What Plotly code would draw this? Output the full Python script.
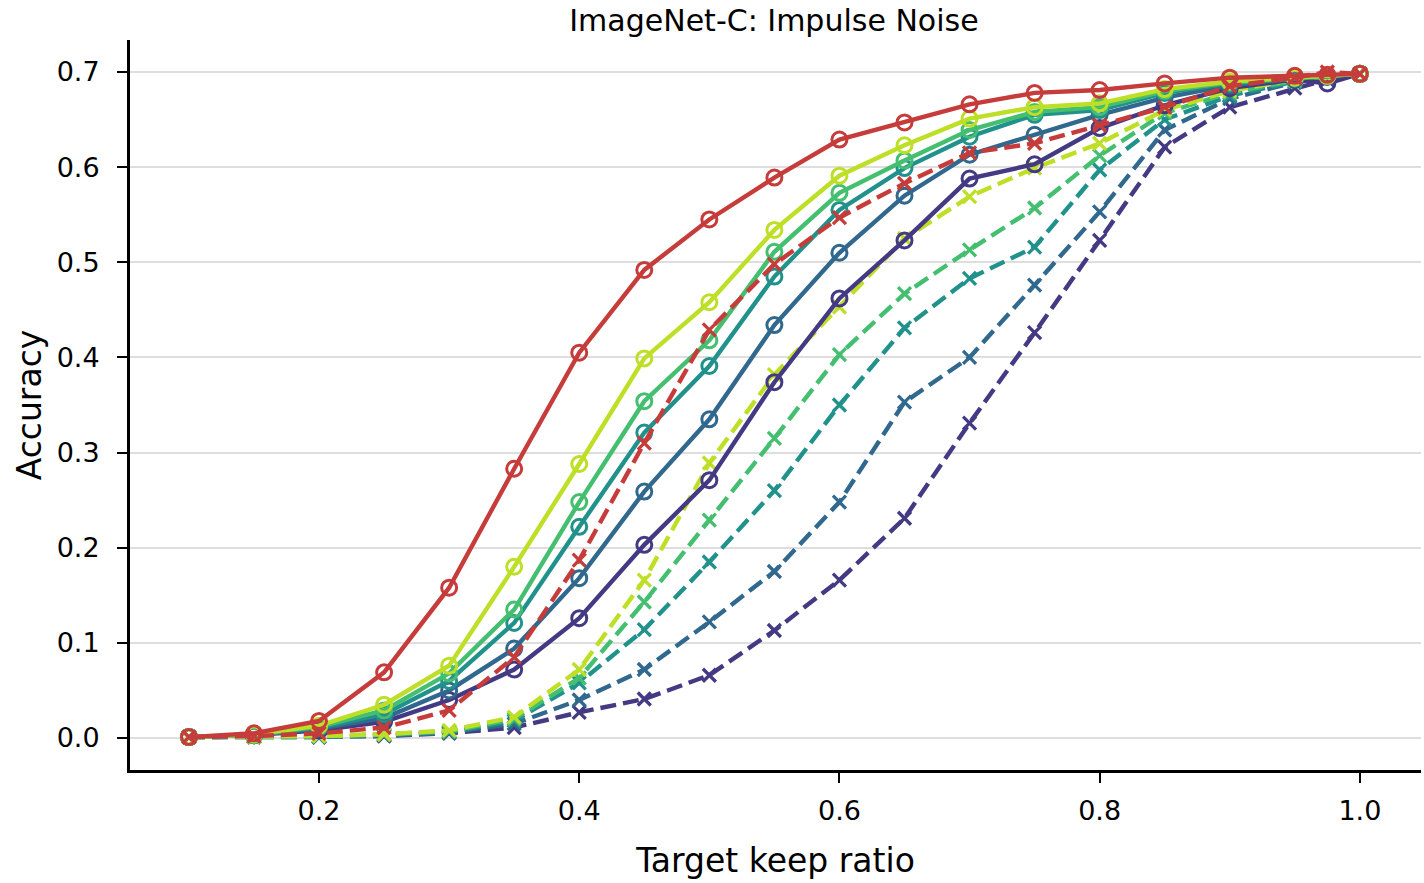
import plotly.graph_objects as go

keep_ratio = [0.1, 0.15, 0.2, 0.25, 0.3, 0.35, 0.4, 0.45, 0.5, 0.55, 0.6, 0.65, 0.7, 0.75,
              0.8, 0.85, 0.9, 0.95, 0.975, 1.0]

purple_dash = [0.001, 0.001, 0.001, 0.002, 0.005, 0.011, 0.027, 0.041, 0.066, 0.113, 0.166, 0.231, 0.331, 0.426, 0.523, 0.621, 0.663, 0.683, 0.692, 0.698]
blue_dash = [0.001, 0.001, 0.001, 0.003, 0.006, 0.015, 0.040, 0.072, 0.122, 0.175, 0.248, 0.353, 0.400, 0.476, 0.553, 0.639, 0.672, 0.689, 0.694, 0.698]
teal_dash = [0.001, 0.001, 0.001, 0.003, 0.006, 0.018, 0.058, 0.114, 0.185, 0.260, 0.350, 0.431, 0.483, 0.516, 0.597, 0.650, 0.675, 0.690, 0.695, 0.698]
green_dash = [0.001, 0.001, 0.002, 0.004, 0.007, 0.020, 0.063, 0.143, 0.229, 0.315, 0.403, 0.467, 0.513, 0.557, 0.612, 0.657, 0.678, 0.691, 0.695, 0.698]
yellow_dash = [0.001, 0.001, 0.002, 0.004, 0.008, 0.022, 0.072, 0.166, 0.289, 0.382, 0.453, 0.525, 0.569, 0.599, 0.625, 0.660, 0.680, 0.692, 0.695, 0.698]

purple_solid = [0.001, 0.003, 0.008, 0.017, 0.040, 0.072, 0.126, 0.203, 0.271, 0.374, 0.462, 0.523, 0.588, 0.603, 0.641, 0.665, 0.683, 0.692, 0.688, 0.698]
blue_solid = [0.001, 0.003, 0.010, 0.021, 0.050, 0.094, 0.168, 0.259, 0.335, 0.434, 0.510, 0.570, 0.613, 0.634, 0.655, 0.673, 0.686, 0.693, 0.695, 0.698]
teal_solid = [0.001, 0.003, 0.011, 0.025, 0.060, 0.121, 0.222, 0.321, 0.391, 0.485, 0.555, 0.599, 0.632, 0.655, 0.660, 0.678, 0.688, 0.693, 0.696, 0.698]
green_solid = [0.001, 0.003, 0.012, 0.029, 0.068, 0.135, 0.248, 0.354, 0.418, 0.511, 0.573, 0.607, 0.639, 0.658, 0.663, 0.680, 0.689, 0.694, 0.696, 0.698]
yellow_solid = [0.001, 0.004, 0.013, 0.035, 0.076, 0.180, 0.288, 0.399, 0.458, 0.534, 0.591, 0.623, 0.651, 0.663, 0.667, 0.682, 0.690, 0.694, 0.696, 0.698]

red_dash = [0.001, 0.002, 0.005, 0.011, 0.029, 0.085, 0.187, 0.310, 0.429, 0.498, 0.547, 0.583, 0.615, 0.625, 0.644, 0.663, 0.685, 0.694, 0.700, 0.698]
red_solid = [0.001, 0.005, 0.018, 0.069, 0.158, 0.283, 0.405, 0.492, 0.545, 0.589, 0.629, 0.647, 0.666, 0.678, 0.681, 0.688, 0.694, 0.696, 0.697, 0.698]

PURPLE = "#443983"
BLUE = "#31688e"
TEAL = "#21918c"
GREEN = "#44bf70"
YELLOW = "#bddf26"
RED = "#c63c3a"

series = [
    (purple_dash, PURPLE, "dash"), (blue_dash, BLUE, "dash"), (teal_dash, TEAL, "dash"),
    (green_dash, GREEN, "dash"), (yellow_dash, YELLOW, "dash"),
    (purple_solid, PURPLE, "solid"), (blue_solid, BLUE, "solid"), (teal_solid, TEAL, "solid"),
    (green_solid, GREEN, "solid"), (yellow_solid, YELLOW, "solid"),
    (red_dash, RED, "dash"), (red_solid, RED, "solid"),
]

fig = go.Figure()
for vals, col, style in series:
    if style == "dash":
        marker = dict(symbol="x-thin", size=13, color=col, line=dict(color=col, width=3.3))
        line = dict(color=col, width=4.4, dash="16px,7px")
    else:
        marker = dict(symbol="circle-open", size=15, color=col, line=dict(color=col, width=3))
        line = dict(color=col, width=4.4)
    fig.add_trace(go.Scatter(x=keep_ratio, y=vals, mode="lines+markers",
                             line=line, marker=marker, showlegend=False))

FONT = "DejaVu Sans"
fig.update_layout(
    width=1424, height=883,
    margin=dict(l=130, r=3, t=40, b=113),
    paper_bgcolor="white", plot_bgcolor="white",
    font=dict(family=FONT, color="black", size=27),
    title=dict(text="ImageNet-C: Impulse Noise", x=0.5435, xanchor="center",
               y=1 - 20 / 883, yanchor="middle", yref="container",
               font=dict(family=FONT, size=30, color="black")),
    showlegend=False,
)
fig.update_xaxes(
    range=[0.0547, 1.047],
    tickvals=[0.2, 0.4, 0.6, 0.8, 1.0], ticktext=["0.2", "0.4", "0.6", "0.8", "1.0"],
    showgrid=False, zeroline=False,
    showline=True, linecolor="black", linewidth=3,
    ticks="outside", ticklen=10, tickwidth=2, tickcolor="black",
    tickfont=dict(size=27), ticklabelstandoff=5,
    title=dict(text="Target keep ratio", font=dict(size=33), standoff=24),
)
fig.update_yaxes(
    range=[-0.0336, 0.7336],
    tickvals=[0.0, 0.1, 0.2, 0.3, 0.4, 0.5, 0.6, 0.7],
    ticktext=["0.0", "0.1", "0.2", "0.3", "0.4", "0.5", "0.6", "0.7"],
    showgrid=True, gridcolor="#dedede", gridwidth=1.5, zeroline=False,
    showline=True, linecolor="black", linewidth=3,
    ticks="outside", ticklen=10, tickwidth=2, tickcolor="black",
    tickfont=dict(size=27), ticklabelstandoff=12,
    title=dict(text="Accuracy", font=dict(size=33), standoff=6),
)

fig.write_html("out.html")
